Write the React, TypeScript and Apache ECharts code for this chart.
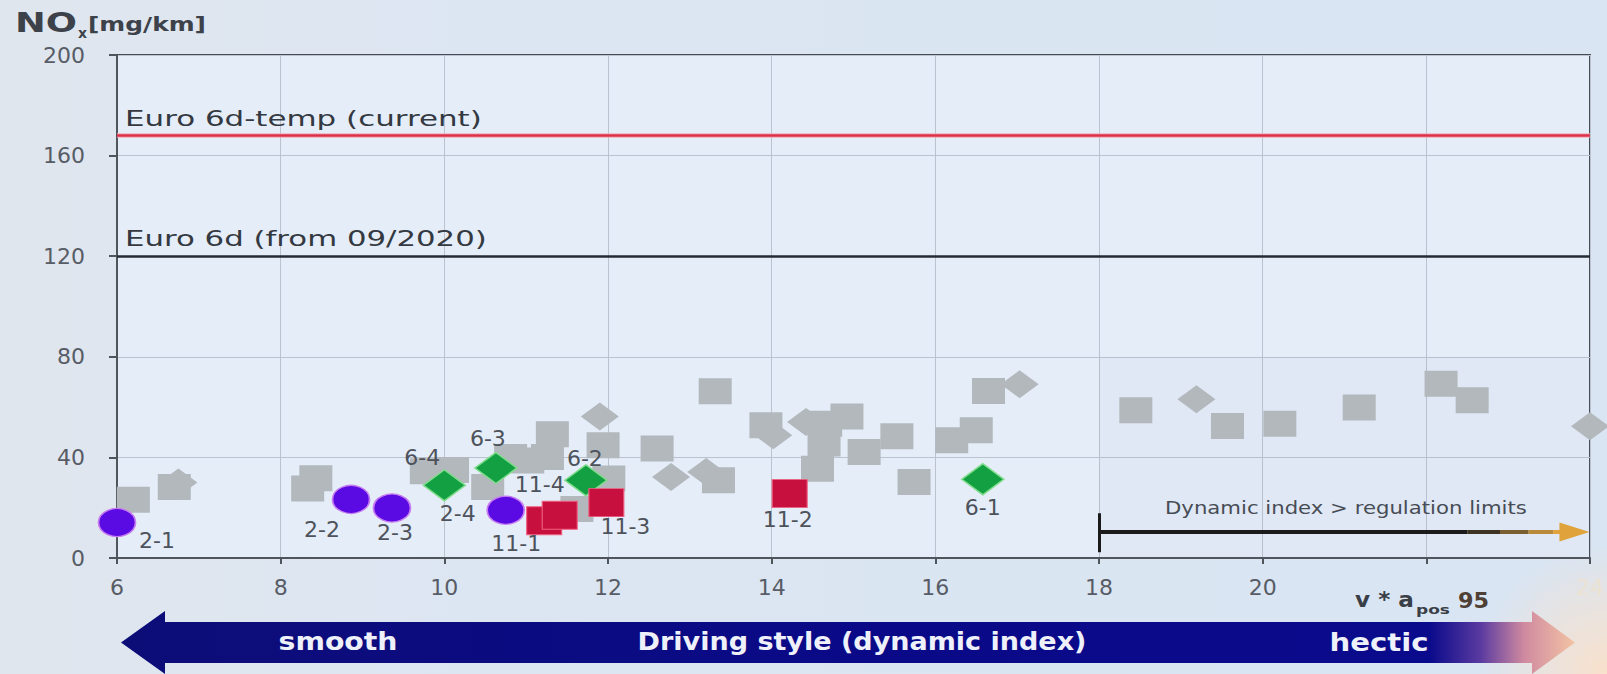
import React, { useEffect, useRef } from "react";
import * as echarts from "echarts";

// ---------- data ----------
const xMin = 6;
const xMax = 24;
const xStep = 2;
const yMin = 0;
const yMax = 200;
const yStep = 40;

const euro6dTemp = 168;
const euro6d = 120;
const dynamicLimitX = 18;

const greySquares: number[][] = [
  [6.2, 23.2], [6.7, 28.2], [8.33, 27.6], [8.43, 31.7], [9.78, 34.5], [10.1, 35.0],
  [10.53, 28.2], [10.81, 40.2], [11.02, 38.8], [11.26, 40.2], [11.32, 49.2],
  [11.62, 19.5], [11.94, 44.8], [12.01, 31.6], [12.6, 43.5], [13.31, 66.3],
  [13.35, 30.9], [13.93, 52.8], [14.56, 35.5], [14.64, 45.5], [14.66, 53.4],
  [14.92, 56.3], [15.13, 42.1], [15.53, 48.4], [15.74, 30.2], [16.2, 46.8],
  [16.5, 50.8], [16.65, 66.4], [18.45, 58.7], [19.57, 52.5], [20.21, 53.4],
  [21.18, 59.8], [22.18, 69.3], [22.56, 62.7],
];
const greyDiamonds: number[][] = [
  [6.75, 30.0], [11.9, 56.3], [12.77, 32.2], [13.2, 34.2], [14.02, 48.8],
  [14.42, 54.1], [17.03, 69.1], [19.19, 63.1], [24.0, 52.4],
];

const circleNames = ["2-1", "2-2", "2-3", "2-4"];
const circleValues: number[][] = [[6.0, 14.1], [8.86, 23.3], [9.36, 19.9], [10.75, 19.0]];

const diamondNames = ["6-1", "6-2", "6-3", "6-4"];
const diamondValues: number[][] = [[16.58, 31.3], [11.73, 30.9], [10.63, 35.8], [10.0, 28.9]];

const squareNames = ["11-1", "11-2", "11-3", "11-4"];
const squareValues: number[][] = [[11.22, 14.8], [14.22, 25.6], [11.98, 22.0], [11.41, 17.0]];

// dynamic-index annotation (data coords)
const dynTickY = [2.3, 17.8];
const dynLineY = 10.3;

// ---------- layout / style ----------
const labelOffset: Record<string, [number, number]> = {
  "2-1": [40, 18], "2-2": [-29, 30], "2-3": [3, 25], "2-4": [-48, 3],
  "6-4": [-22, -28], "6-3": [-8, -29], "6-2": [-1, -22], "6-1": [0, 28],
  "11-1": [-28, 23], "11-4": [-20, -31], "11-3": [19, 24], "11-2": [-2, 26],
};

const FONT = '"DejaVu Sans", Verdana, sans-serif';
const GREY = "#b3b8bd";

function measure(text: string, font: string): number {
  const c = document.createElement("canvas").getContext("2d");
  if (!c) return text.length * 10;
  c.font = font;
  return c.measureText(text).width;
}

function stretchText(
  text: string,
  x: number,
  y: number,
  size: number,
  weight: string,
  color: string,
  target: number,
  align: string = "left"
) {
  const w = measure(text, `${weight} ${size}px DejaVu Sans`);
  const s = target > 0 ? target / w : 1;
  return {
    type: "text",
    x,
    y,
    scaleX: s,
    silent: true,
    z: 100,
    style: {
      text,
      fill: color,
      fontSize: size,
      fontWeight: weight,
      fontFamily: FONT,
      align,
      textAlign: align,
      verticalAlign: "middle",
      textVerticalAlign: "middle",
    },
  };
}

function labelled(names: string[], values: number[][]) {
  return names.map((n, i) => ({
    name: n,
    value: values[i],
    label: { offset: labelOffset[n] || [0, 0] },
  }));
}

const pointLabel = {
  show: true,
  position: "inside",
  formatter: "{b}",
  fontSize: 22,
  fontFamily: FONT,
  color: "#4d525b",
};

function buildOption() {
  const darkLine = "#1b1b1b";
  const graphic: any[] = [
    // bottom driving-style arrow
    {
      type: "polygon",
      silent: true,
      z: 90,
      shape: {
        points: [
          [121, 642.5], [165, 611], [165, 622], [1532, 622], [1532, 611],
          [1575, 642.5], [1532, 674], [1532, 663], [165, 663], [165, 674],
        ],
      },
      style: {
        fill: {
          type: "linear", x: 0, y: 0, x2: 1, y2: 0,
          colorStops: [
            { offset: 0, color: "#0d0d78" },
            { offset: 0.5, color: "#0a0a88" },
            { offset: 0.9, color: "#0a0a8c" },
            { offset: 0.935, color: "#5a3aa0" },
            { offset: 0.965, color: "#d08aa0" },
            { offset: 1, color: "#f2c3a4" },
          ],
        },
      },
    },
    stretchText("smooth", 338, 642, 24, "bold", "#eef0fa", 119, "center"),
    stretchText("Driving style (dynamic index)", 862, 642, 24, "bold", "#eef0fa", 449, "center"),
    stretchText("hectic", 1379, 642, 24, "bold", "#eef0fa", 99, "center"),
    // y-axis title
    stretchText("NO", 15, 23, 26, "bold", "#3d424a", 62),
    stretchText("x", 78, 33, 14, "bold", "#3d424a", 9),
    stretchText("[mg/km]", 88, 24, 20, "bold", "#3d424a", 118),
    // x-axis title
    stretchText("v * a", 1355, 599, 22, "bold", "#3a3f47", 59),
    stretchText("pos", 1416, 610, 13, "bold", "#3a3f47", 34),
    stretchText("95", 1458, 600, 22, "bold", "#4e4034", 31),
    // limit labels
    stretchText("Euro 6d-temp (current)", 125, 118, 22, "normal", "#343941", 357),
    stretchText("Euro 6d (from 09/2020)", 125, 238, 22, "normal", "#343941", 362),
    stretchText("Dynamic index > regulation limits", 1165, 508, 17, "normal", "#474c55", 362),
  ];

  return {
    animation: false,
    backgroundColor: "transparent",
    grid: {
      left: 117,
      right: 9,
      top: 55,
      bottom: 116,
      show: true,
      backgroundColor: "#e4edf8",
      borderColor: "#474c55",
      borderWidth: 2,
    },
    xAxis: {
      type: "value",
      min: xMin,
      max: xMax,
      interval: xStep,
      axisLine: { show: true, lineStyle: { color: "#50555c", width: 2 } },
      axisTick: { show: true, length: 6, lineStyle: { color: "#50555c", width: 2 } },
      splitLine: { show: true, lineStyle: { color: "#bac3cf", width: 1 } },
      axisLabel: {
        margin: 18,
        fontSize: 22,
        fontFamily: FONT,
        color: (v: any) => (Number(v) === xMax ? "#ece2d2" : "#575c66"),
        formatter: (v: number) => (v === 22 ? "" : String(v)),
        showMaxLabel: true,
        showMinLabel: true,
      },
    },
    yAxis: {
      type: "value",
      min: yMin,
      max: yMax,
      interval: yStep,
      axisLine: { show: true, lineStyle: { color: "#50555c", width: 2 } },
      axisTick: { show: true, length: 8, lineStyle: { color: "#50555c", width: 2 } },
      splitLine: { show: true, lineStyle: { color: "#bac3cf", width: 1 } },
      axisLabel: { margin: 32, fontSize: 22, fontFamily: FONT, color: "#575c66" },
    },
    graphic,
    series: [
      {
        name: "Euro limits",
        type: "line",
        data: [],
        markLine: {
          silent: true,
          symbol: "none",
          label: { show: false },
          data: [
            { yAxis: euro6dTemp, lineStyle: { color: "#f4a6b4", width: 5, type: "solid", opacity: 0.7 } },
            { yAxis: euro6dTemp, lineStyle: { color: "#dc3048", width: 2.5, type: "solid", opacity: 1 } },
            { yAxis: euro6d, lineStyle: { color: "#262b33", width: 2.5, type: "solid", opacity: 1 } },
          ],
        },
        z: 3,
      },
      {
        name: "other vehicles (square)",
        type: "scatter",
        symbol: "rect",
        symbolSize: [33, 26],
        itemStyle: { color: GREY, opacity: 1 },
        data: greySquares,
        z: 2,
        markArea: {
          silent: true,
          itemStyle: { color: "rgba(110,120,140,0.035)" },
          data: [[{ xAxis: dynamicLimitX, yAxis: 0 }, { xAxis: xMax, yAxis: 80 }]],
        },
      },
      {
        name: "other vehicles (diamond)",
        type: "scatter",
        symbol: "diamond",
        symbolSize: [38, 28],
        itemStyle: { color: GREY, opacity: 1 },
        data: greyDiamonds,
        z: 2,
        markLine: {
          silent: true,
          symbol: "none",
          label: { show: false },
          data: [
            [
              { coord: [dynamicLimitX, dynTickY[0]], lineStyle: { color: darkLine, width: 3, type: "solid" } },
              { coord: [dynamicLimitX, dynTickY[1]], lineStyle: { color: darkLine, width: 3, type: "solid" } },
            ],
            [
              { coord: [dynamicLimitX, dynLineY], lineStyle: { color: darkLine, width: 4, type: "solid" } },
              { coord: [22.5, dynLineY], lineStyle: { color: darkLine, width: 4, type: "solid" } },
            ],
            [
              { coord: [22.5, dynLineY], lineStyle: { color: "#3e3322", width: 4, type: "solid" } },
              { coord: [22.9, dynLineY], lineStyle: { color: "#3e3322", width: 4, type: "solid" } },
            ],
            [
              { coord: [22.9, dynLineY], lineStyle: { color: "#7a6030", width: 4, type: "solid" } },
              { coord: [23.25, dynLineY], lineStyle: { color: "#7a6030", width: 4, type: "solid" } },
            ],
            [
              { coord: [23.25, dynLineY], lineStyle: { color: "#b88a3a", width: 4, type: "solid" } },
              { coord: [23.55, dynLineY], lineStyle: { color: "#b88a3a", width: 4, type: "solid" } },
            ],
            [
              { coord: [23.55, dynLineY], symbol: "none", lineStyle: { color: "#e0a23a", width: 4, type: "solid" } },
              {
                coord: [23.81, dynLineY], symbol: "triangle", symbolSize: [19, 30],
                lineStyle: { color: "#e0a23a", width: 4, type: "solid" },
              },
            ],
          ],
        },
      },
      {
        name: "vehicle 2",
        type: "scatter",
        symbol: "circle",
        symbolSize: [37, 28],
        itemStyle: { color: "#5a0ae2", borderColor: "#c77df0", borderWidth: 1.5, opacity: 1 },
        label: pointLabel,
        data: labelled(circleNames, circleValues),
        z: 5,
      },
      {
        name: "vehicle 6",
        type: "scatter",
        symbol: "diamond",
        symbolSize: [42, 31],
        itemStyle: { color: "#12a043", borderColor: "#7fdc8a", borderWidth: 1.5, opacity: 1 },
        label: pointLabel,
        data: labelled(diamondNames, diamondValues),
        z: 5,
      },
      {
        name: "vehicle 11",
        type: "scatter",
        symbol: "rect",
        symbolSize: [35, 28],
        itemStyle: { color: "#c8103e", borderColor: "#f06080", borderWidth: 1, opacity: 1 },
        label: pointLabel,
        data: labelled(squareNames, squareValues),
        z: 5,
      },
    ],
  };
}

export default function App() {
  const ref = useRef<HTMLDivElement>(null);
  useEffect(() => {
    document.body.style.margin = "0";
    if (!ref.current) return;
    const chart = echarts.init(ref.current, undefined, { renderer: "svg" });
    chart.setOption(buildOption() as any);
    return () => chart.dispose();
  }, []);
  return (
    <div
      ref={ref}
      style={{
        position: "fixed",
        left: 0,
        top: 0,
        width: 1607,
        height: 674,
        background:
          "radial-gradient(circle at 100% 100%, rgba(255,224,196,0.85) 0px, rgba(255,224,196,0) 130px), linear-gradient(90deg, #e0e6ee 0%, #dce6f2 30%, #d9e5f3 100%)",
      }}
    />
  );
}
